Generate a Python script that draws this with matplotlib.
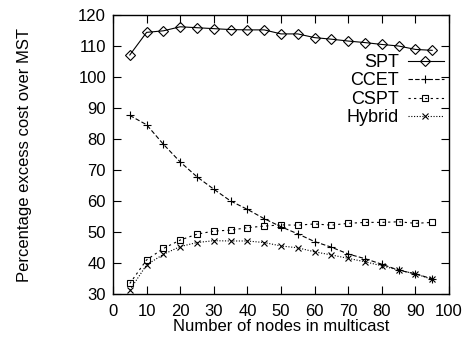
import matplotlib
matplotlib.use("Agg")
import matplotlib.pyplot as plt
from matplotlib.lines import Line2D

nodes = [5, 10, 15, 20, 25, 30, 35, 40, 45, 50, 55, 60, 65, 70, 75, 80, 85, 90, 95]
spt = [107.1, 114.4, 114.9, 116.2, 115.9, 115.6, 115.3, 115.2, 115.2, 113.9, 113.9,
       112.7, 112.2, 111.6, 111.1, 110.5, 110.0, 108.9, 108.6]
ccet = [87.6, 84.6, 78.3, 72.6, 67.8, 63.8, 60.0, 57.3, 54.3, 51.7, 49.4,
        46.9, 45.1, 42.9, 41.4, 39.6, 37.7, 36.5, 34.9]
cspt = [33.4, 41.0, 44.7, 47.4, 49.3, 50.3, 50.6, 51.4, 51.9, 52.3, 52.2,
        52.6, 52.2, 52.8, 53.1, 53.1, 53.3, 52.8, 53.1]
hybrid = [31.3, 39.4, 42.8, 45.3, 46.6, 47.2, 47.1, 47.1, 46.6, 45.5, 44.9,
          43.6, 42.6, 41.5, 40.4, 39.1, 37.7, 36.5, 34.7]
labels = ['SPT', 'CCET', 'CSPT', 'Hybrid']

plt.rcParams['font.family'] = ['Liberation Sans', 'DejaVu Sans']

fig = plt.figure(figsize=(4.65, 3.41), dpi=100)
ax = fig.add_axes([113/465, 1-294/341, (449-113)/465, (294-15)/341])

styles = [
    dict(ls='-', marker='D', ms=5, mfc='none'),
    dict(ls=(0, (4, 2)), marker='+', ms=6),
    dict(ls=(0, (2, 3)), marker='s', ms=5, mfc='none'),
    dict(ls=(0, (1, 1.5)), marker='x', ms=5),
]
series = [spt, ccet, cspt, hybrid]
for vals, lab, st in zip(series, labels, styles):
    ax.plot(nodes, vals, color='black', lw=0.8, mec='black', mew=0.8,
            label=lab, **st)

ax.set_xlim(0, 100)
ax.set_ylim(30, 120)
ax.set_xticks(range(0, 101, 10))
ax.set_yticks(range(30, 121, 10))
ax.tick_params(direction='in', top=True, right=True, length=6, width=0.8,
               labelsize=12)
ax.tick_params(axis='x', pad=7)
ax.tick_params(axis='y', pad=5)
for s in ax.spines.values():
    s.set_linewidth(1.0)

ax.set_xlabel('Number of nodes in multicast', fontsize=12, labelpad=0)
ax.set_ylabel('Percentage excess cost over MST', fontsize=12, labelpad=33)

# gnuplot-style key: right-aligned labels followed by samples
key_y = [0.836, 0.771, 0.704, 0.638]
for lab, st, y in zip(labels, styles, key_y):
    ax.text(0.851, y, lab, transform=ax.transAxes, ha='right',
            va='center_baseline', fontsize=13)
    ax.add_line(Line2D([0.878, 0.985], [y, y], transform=ax.transAxes,
                       color='black', lw=0.8, ls=st['ls']))
    ax.add_line(Line2D([0.93], [y], transform=ax.transAxes, color='black',
                       lw=0, marker=st['marker'], ms=st['ms'],
                       mfc=st.get('mfc', 'black'), mec='black', mew=0.8))

fig.savefig('out.png', dpi=100)
